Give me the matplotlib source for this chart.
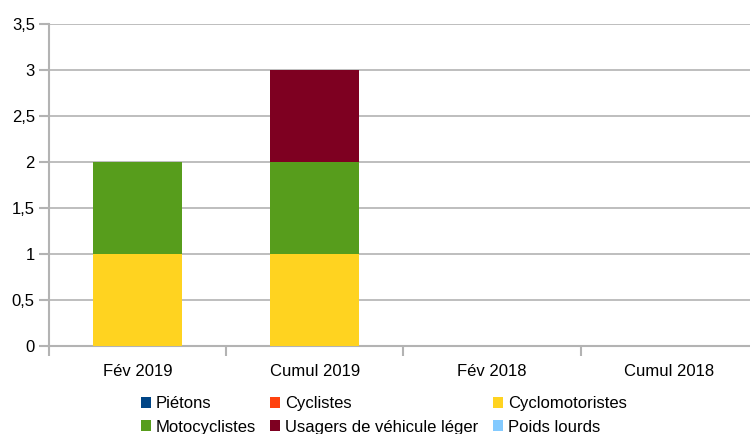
import matplotlib.pyplot as plt
import numpy as np

plt.rcParams['font.family'] = ['Liberation Sans', 'DejaVu Sans']

categories = ['Fév 2019', 'Cumul 2019', 'Fév 2018', 'Cumul 2018']
series = ['Piétons', 'Cyclistes', 'Cyclomotoristes',
          'Motocyclistes', 'Usagers de véhicule léger', 'Poids lourds']
pietons = [0, 0, 0, 0]
cyclistes = [0, 0, 0, 0]
cyclomotoristes = [1, 1, 0, 0]
motocyclistes = [1, 1, 0, 0]
usagers_vl = [0, 1, 0, 0]
poids_lourds = [0, 0, 0, 0]
colors = ['#004586', '#ff420e', '#ffd320', '#579d1c', '#7e0021', '#83caff']

values = [pietons, cyclistes, cyclomotoristes, motocyclistes, usagers_vl, poids_lourds]

fig = plt.figure(figsize=(7.5, 4.34), dpi=100)
ax = fig.add_axes([0.065, 0.203, 0.946, 0.742])

x = np.arange(len(categories))
bottom = np.zeros(len(categories))
handles = []
for name, vals, c in zip(series, values, colors):
    b = ax.bar(x, vals, 0.5, bottom=bottom, color=c, label=name, zorder=3)
    handles.append(b)
    bottom += np.array(vals)

ax.set_xlim(-0.5, 3.5)
ax.set_ylim(0, 3.5)
ax.set_yticks(np.arange(0, 3.51, 0.5))
ax.set_yticklabels([('%g' % v).replace('.', ',') for v in np.arange(0, 3.51, 0.5)])
ax.set_xticks(x)
ax.set_xticklabels(categories)
ax.set_xticks(np.arange(-0.5, 3.6, 1), minor=True)
ax.tick_params(axis='x', which='major', length=0, pad=13)
ax.tick_params(axis='x', which='minor', length=7, color='#b3b3b3', width=1.5)
ax.tick_params(axis='y', length=7, color='#b3b3b3', width=1.5, pad=3)
ax.tick_params(labelsize=12)
ax.grid(axis='y', color='#b3b3b3', linewidth=1.2, zorder=0)
for s in ['top', 'right']:
    ax.spines[s].set_visible(False)
for s in ['left', 'bottom']:
    ax.spines[s].set_color('#b3b3b3')
    ax.spines[s].set_linewidth(1.5)

order = [0, 3, 1, 4, 2, 5]
fig.legend([handles[i] for i in order], [series[i] for i in order],
           ncol=3, loc='lower left', bbox_to_anchor=(0.168, -0.036),
           frameon=False, fontsize=12, handlelength=0.6, handleheight=0.6,
           handletextpad=0.3, columnspacing=0.85, labelspacing=0.5)

fig.savefig('out.png', dpi=100)
